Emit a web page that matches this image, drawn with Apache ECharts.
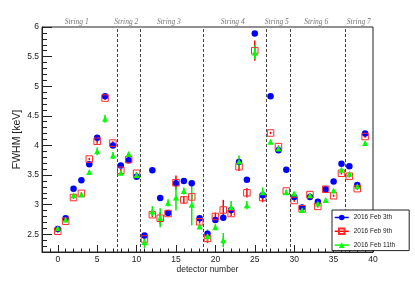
<!DOCTYPE html>
<html><head><meta charset="utf-8">
<script src="https://cdn.jsdelivr.net/npm/echarts@6/dist/echarts.min.js"></script>
<style>html,body{margin:0;padding:0;background:#fff}#c{width:415px;height:281px}</style>
</head><body><div id="c"></div>
<script>
const detectors = [0,1,2,3,4,5,6,7,8,9,10,11,12,13,14,15,16,17,18,19,20,21,22,23,24,25,26,27,28,29,30,31,32,33,34,35,36,37,38,39];
const feb3 = [2.59,2.77,3.27,3.41,3.68,4.13,4.83,4.00,3.66,3.75,3.47,2.48,3.58,3.11,2.86,3.36,3.40,3.36,2.77,2.51,2.74,2.78,2.91,3.72,3.42,5.89,3.16,4.83,3.92,3.59,3.13,2.95,3.13,3.05,3.26,3.39,3.69,3.65,3.33,4.20];
const feb9 = [2.55,2.72,3.12,3.19,3.77,4.07,4.80,4.04,3.58,3.76,3.53,2.42,2.83,2.77,2.85,3.37,3.08,3.13,2.71,2.43,2.80,2.91,2.85,3.64,3.20,5.60,3.12,4.21,3.98,3.23,3.07,2.93,3.17,2.97,3.26,3.15,3.53,3.48,3.27,4.15];
const feb11 = [2.60,2.75,3.16,3.17,3.55,3.90,4.45,3.83,3.54,3.86,3.50,2.37,2.89,2.78,3.03,3.12,3.23,3.00,2.63,2.47,2.62,2.40,2.96,3.73,2.99,5.57,3.21,4.06,3.95,3.21,3.19,2.91,3.16,3.02,3.08,3.24,3.59,3.52,3.31,4.04];
const feb3Err = [0.02,0.02,0.02,0.02,0.02,0.03,0.03,0.02,0.02,0.02,0.02,0.03,0.02,0.02,0.02,0.02,0.02,0.02,0.02,0.02,0.02,0.02,0.02,0.02,0.02,0.04,0.02,0.02,0.02,0.02,0.02,0.02,0.02,0.02,0.02,0.02,0.02,0.02,0.02,0.02];
const feb9Err = [0.02,0.02,0.02,0.02,0.02,0.04,0.03,0.03,0.02,0.02,0.02,0.04,0.04,0.10,0.04,0.12,0.065,0.04,0.03,0.08,0.065,0.17,0.04,0.07,0.08,0.17,0.08,0.02,0.02,0.02,0.02,0.02,0.02,0.02,0.02,0.02,0.02,0.02,0.02,0.02];
const feb11Err = [0.02,0.02,0.02,0.02,0.03,0.065,0.067,0.06,0.03,0.03,0.03,0.10,0.084,0.16,0.06,0.22,0.06,0.35,0.04,0.11,0.05,0.12,0.10,0.10,0.07,0.12,0.08,0.02,0.02,0.02,0.02,0.02,0.02,0.02,0.02,0.02,0.02,0.02,0.02,0.02];
const stringNames = ['String 1','String 2','String 3','String 4','String 5','String 6','String 7'];
const stringLabelX = [2.4, 8.7, 14.1, 22.2, 27.8, 32.8, 38.2];
const stringBoundaries = [7.5, 10.5, 18.5, 26.5, 29.5, 36.5];
const xTicks = [0,5,10,15,20,25,30,35,40];
const yTicks = [2.5,3,3.5,4,4.5,5,5.5,6];
const seriesNames = ['2016 Feb 3th','2016 Feb 9th','2016 Feb 11th'];

const xMinor = []; for (let i = -2; i <= 40; i++) xMinor.push(i);
const yMinor = []; for (let i = 23; i <= 60; i++) yMinor.push(i / 10);

const pairs = (ys) => detectors.map((d, i) => [d, ys[i]]);
const errData = (ys, es) => detectors.map((d, i) => [d, ys[i], es[i]]);
const font = 'Liberation Sans';

function errBar(name, ys, es, color) {
  return {
    type: 'custom', name: name, silent: true, z: 1,
    data: errData(ys, es),
    encode: { x: 0, y: 1 },
    renderItem: function (params, api) {
      const x = api.value(0), y = api.value(1), e = api.value(2);
      const p1 = api.coord([x, y - e]), p2 = api.coord([x, y + e]);
      return { type: 'line', shape: { x1: p1[0], y1: p1[1], x2: p2[0], y2: p2[1] },
        style: { stroke: color, lineWidth: 1.5 } };
    }
  };
}

const chart = echarts.init(document.getElementById('c'), null, { renderer: 'canvas' });
chart.setOption({
  animation: false,
  backgroundColor: '#fff',
  grid: { left: 42, right: 42, top: 27, bottom: 29, show: true, borderColor: '#222', borderWidth: 1, backgroundColor: 'transparent' },
  xAxis: [{
    type: 'value', min: -2, max: 40,
    axisLine: { show: true, onZero: false, lineStyle: { color: '#222', width: 1 } },
    axisTick: { show: true, inside: true, length: 7, customValues: xTicks, lineStyle: { color: '#222' } },
    axisLabel: { customValues: xTicks, fontFamily: font, fontSize: 8.5, color: '#222', margin: 3 },
    splitLine: { show: false },
    name: 'detector number', nameLocation: 'middle', nameGap: 13, nameMoveOverlap: false,
    nameTextStyle: { fontFamily: font, fontSize: 8.5, color: '#222' }
  }, {
    type: 'value', min: -2, max: 40, position: 'bottom',
    axisLine: { show: false, onZero: false },
    axisTick: { show: true, inside: true, length: 3.5, customValues: xMinor, lineStyle: { color: '#222' } },
    axisLabel: { show: false }, splitLine: { show: false }
  }],
  yAxis: [{
    type: 'value', min: 2.2, max: 6,
    axisLine: { show: true, onZero: false, lineStyle: { color: '#222', width: 1 } },
    axisTick: { show: true, inside: true, length: 10, customValues: yTicks, lineStyle: { color: '#222' } },
    axisLabel: { customValues: yTicks, fontFamily: font, fontSize: 8.5, color: '#222', margin: 3 },
    splitLine: { show: false },
    name: 'FWHM [keV]', nameLocation: 'middle', nameGap: 19, nameMoveOverlap: false,
    nameTextStyle: { fontFamily: font, fontSize: 10.5, color: '#222' }
  }, {
    type: 'value', min: 2.2, max: 6, position: 'left',
    axisLine: { show: false, onZero: false },
    axisTick: { show: true, inside: true, length: 5, customValues: yMinor, lineStyle: { color: '#222' } },
    axisLabel: { show: false }, splitLine: { show: false }
  }],
  legend: {
    data: seriesNames, orient: 'vertical', left: 332, top: 210,
    backgroundColor: '#fff', borderColor: '#222', borderWidth: 1, borderRadius: 0,
    padding: [4, 14, 2, 2], itemWidth: 14, itemHeight: 7, itemGap: 6.5,
    textStyle: { fontFamily: font, fontSize: 6.5, color: '#222' },
    lineStyle: { opacity: 1, width: 1.5 }, z: 10
  },
  series: [
    errBar('e3', feb3, feb3Err, '#0000ff'),
    errBar('e9', feb9, feb9Err, '#ff0000'),
    errBar('e11', feb11, feb11Err, '#00ee00'),
    {
      type: 'line', name: seriesNames[0], data: pairs(feb3), z: 2,
      symbol: 'circle', symbolSize: 6.5, showSymbol: true,
      lineStyle: { color: '#0000ff', opacity: 0, width: 1.5 },
      itemStyle: { color: '#0000ff' },
      markLine: {
        silent: true, symbol: ['none', 'none'], label: { show: false },
        lineStyle: { color: '#444', type: [3, 2], width: 1 },
        data: stringBoundaries.map(v => ({ xAxis: v }))
      }
    },
    {
      type: 'line', name: seriesNames[1], data: pairs(feb9), z: 3,
      symbol: 'rect', symbolSize: 6.5, showSymbol: true,
      lineStyle: { color: '#ff0000', opacity: 0, width: 1.5 },
      itemStyle: { color: 'rgba(255,255,255,0)', borderColor: '#ff2a2a', borderWidth: 1 }
    },
    {
      type: 'line', name: seriesNames[2], data: pairs(feb11), z: 4,
      symbol: 'triangle', symbolSize: 6, showSymbol: true,
      lineStyle: { color: '#00ff00', opacity: 0, width: 1.5 },
      itemStyle: { color: '#00ff00' }
    },
    {
      type: 'scatter', name: 'strings', silent: true, clip: false, symbolSize: 0,
      data: stringLabelX.map((x, i) => ({ value: [x, 6], name: stringNames[i] })),
      label: { show: true, position: 'top', distance: 1, formatter: p => p.name,
        fontFamily: 'Liberation Serif', fontStyle: 'italic', fontSize: 7.5, color: '#555' }
    }
  ]
});
</script>
</body></html>
